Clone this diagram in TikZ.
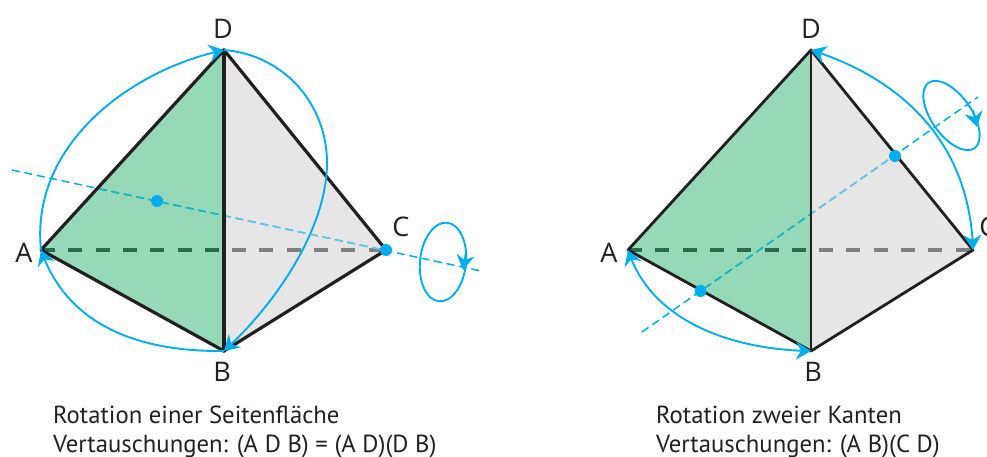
\documentclass[tikz,border=0pt]{standalone}
\usepackage{fontspec}
\setmainfont{PT Sans}
\newfontfamily\labelfont{Open Sans}
\usetikzlibrary{arrows.meta,bending}
\definecolor{ink}{HTML}{231F20}
\definecolor{sky}{HTML}{00AEEF}
\definecolor{facegreen}{HTML}{96D9B9}
\definecolor{facegrey}{HTML}{E6E6E7}
\definecolor{axisgreen}{HTML}{18B5BE}
\definecolor{axisgrey}{HTML}{6CC5E9}
\definecolor{backgreen}{HTML}{2A6B4B}
\definecolor{backgrey}{HTML}{808080}
\tikzset{
  edgeline/.style={draw=ink,line width=3.2pt,line cap=round,line join=round},
  edgethin/.style={draw=ink,line width=2.8pt,line cap=round,line join=round},
  backline/.style={line width=3.6pt,dash pattern=on 14pt off 13.3pt},
  axisline/.style={line width=1.5pt,dash pattern=on 8pt off 4.7pt},
  turn/.style={draw=sky,line width=1.9pt},
  tip/.style={-{Stealth[length=15pt,width=18pt,inset=5pt,sky]}},
  bothtips/.style={{Stealth[length=15pt,width=18pt,inset=5pt,sky]}-{Stealth[length=15pt,width=18pt,inset=5pt,sky]}},
  dot/.style={circle,fill=sky,inner sep=0pt,minimum size=12pt},
  vertex/.style={text=ink,font=\labelfont\fontsize{27}{27}\selectfont,inner sep=0pt},
  caption/.style={text=ink,font=\fontsize{24.7}{24.7}\selectfont,inner sep=0pt,anchor=base west}
}
\begin{document}
\begin{tikzpicture}[x=1pt,y=-1pt]
\useasboundingbox (0,0) rectangle (987,457);
% ---------- left figure
\coordinate (A1) at (41,250);
\coordinate (D1) at (224,50);
\coordinate (B1) at (224,351);
\coordinate (C1) at (386,250);
\coordinate (P1) at (12,170);
\coordinate (Q1) at (481,271);
\fill[facegreen] (A1) -- (D1) -- (B1) -- cycle;
\fill[facegrey] (D1) -- (C1) -- (B1) -- cycle;
\draw[axisline,sky] (P1) -- (Q1);
\begin{scope}
  \clip (A1) -- (D1) -- (B1) -- cycle;
  \draw[backline,backgreen] (A1) -- (C1);
  \draw[axisline,axisgreen] (P1) -- (Q1);
\end{scope}
\begin{scope}
  \clip (D1) -- (C1) -- (B1) -- cycle;
  \draw[backline,backgrey] (A1) -- (C1);
  \draw[axisline,axisgrey] (P1) -- (Q1);
\end{scope}
\draw[edgeline] (A1) -- (D1) -- (C1) -- (B1) -- (A1);
\draw[edgeline] (D1) -- (B1);
\node[dot] (M1) at (157,201) {};
\node[dot] (E1) at (C1) {};
\draw[turn,tip] (A1) .. controls (30,145) and (130,70) .. (D1);
\coordinate (R1) at (327,163);
\draw[turn] (D1) .. controls (285,55) and (327,105) .. (R1);
\draw[turn,tip] (R1) .. controls (327,225) and (280,300) .. (B1);
\draw[turn,tip] (B1) .. controls (130,352) and (65,320) .. (A1);
\begin{scope}[shift={(443,262)},rotate=-6]
  \draw[turn] (0,0) ellipse [x radius=23,y radius=39.5];
\end{scope}
\coordinate (L1a) at (466,252);
\coordinate (L1b) at (463,270);
\draw[turn,tip] (L1a) -- (L1b);
\node[vertex] (lD1) at (223,29) {D};
\node[vertex] (lA1) at (24,253) {A};
\node[vertex] (lB1) at (222,372) {B};
\node[vertex] (lC1) at (401,227) {C};
\node[caption] (t1a) at (53,423) {Rotation einer Seitenfläche};
\node[caption] (t1b) at (53,452) {Vertauschungen: (A D B) = (A D)(D B)};
% ---------- right figure
\coordinate (A2) at (628,250);
\coordinate (D2) at (811,50);
\coordinate (B2) at (811,351);
\coordinate (C2) at (973,250);
\coordinate (P2) at (642,332);
\coordinate (Q2) at (978,97);
\fill[facegreen] (A2) -- (D2) -- (B2) -- cycle;
\fill[facegrey] (D2) -- (C2) -- (B2) -- cycle;
\draw[axisline,sky] (P2) -- (Q2);
\begin{scope}
  \clip (A2) -- (D2) -- (B2) -- cycle;
  \draw[backline,backgreen] (A2) -- (C2);
  \draw[axisline,axisgreen] (P2) -- (Q2);
\end{scope}
\begin{scope}
  \clip (D2) -- (C2) -- (B2) -- cycle;
  \draw[backline,backgrey] (A2) -- (C2);
  \draw[axisline,axisgrey] (P2) -- (Q2);
\end{scope}
\draw[edgethin] (A2) -- (D2) -- (C2) -- (B2) -- (A2);
\draw[edgethin] (D2) -- (B2);
\node[dot] (M2) at (700.5,291) {};
\node[dot] (N2) at (895,156) {};
\draw[turn,bothtips] (D2) .. controls (905,80) and (970,145) .. (C2);
\draw[turn,bothtips] (A2) .. controls (650,320) and (730,350) .. (B2);
\begin{scope}[shift={(951.5,115.5)},rotate=35]
  \draw[turn] (0,0) ellipse [x radius=20,y radius=40];
\end{scope}
\coordinate (L2a) at (973,110);
\coordinate (L2b) at (977,127);
\draw[turn,tip] (L2a) -- (L2b);
\node[vertex] (lD2) at (811,29) {D};
\node[vertex] (lA2) at (609,253) {A};
\node[vertex] (lB2) at (813,372) {B};
\node[vertex] (lC2) at (988,227) {C};
\node[caption] (t2a) at (656,423) {Rotation zweier Kanten};
\node[caption] (t2b) at (656,452) {Vertauschungen: (A B)(C D)};
\end{tikzpicture}
\end{document}
